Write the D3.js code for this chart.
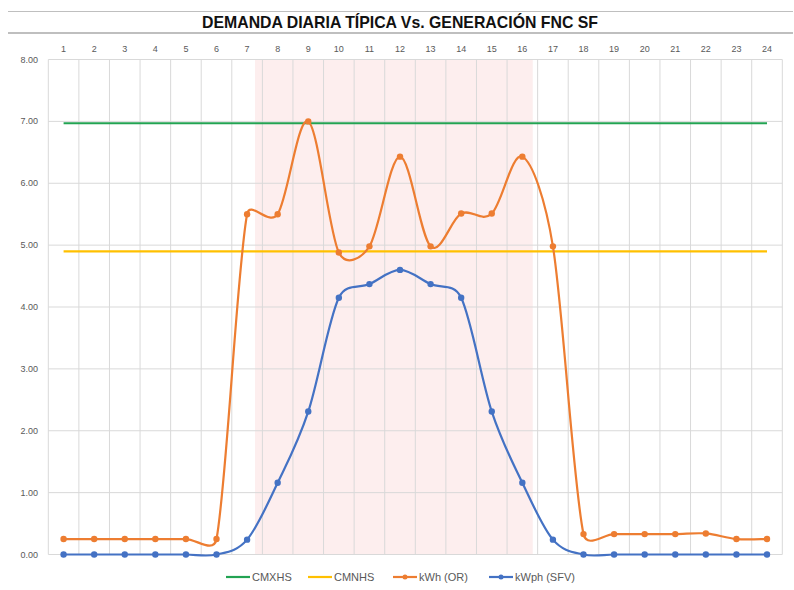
<!DOCTYPE html>
<html>
<head>
<meta charset="utf-8">
<script src="https://cdn.jsdelivr.net/npm/d3@7"></script>
<style>
  body { margin: 0; background: #fff; }
  svg { display: block; font-family: "Liberation Sans", Arial, sans-serif; }
</style>
</head>
<body>
<svg id="chart" width="794" height="590"></svg>
<script>
// datos
const hours = d3.range(1, 25);
const cmxhs = hours.map(() => 6.97);
const cmnhs = hours.map(() => 4.9);
const kwhOR = [0.25, 0.25, 0.25, 0.25, 0.25, 0.25, 5.5, 5.5, 7.0, 4.88, 4.98, 6.43,
  4.98, 5.51, 5.51, 6.43, 4.98, 0.33, 0.33, 0.33, 0.33, 0.34, 0.25, 0.25];
const kwphSFV = [0, 0, 0, 0, 0, 0, 0.24, 1.16, 2.31, 4.15, 4.37, 4.6,
  4.37, 4.15, 2.31, 1.16, 0.24, 0, 0, 0, 0, 0, 0, 0];
const yTicks = [0, 1, 2, 3, 4, 5, 6, 7, 8];
const shadeRange = [7.26, 16.34]; // horas
const title = "DEMANDA DIARIA TÍPICA Vs. GENERACIÓN FNC SF";

const series = [
  { name: "CMXHS", values: cmxhs, color: "#22a352", markers: false },
  { name: "CMNHS", values: cmnhs, color: "#ffc000", markers: false },
  { name: "kWh (OR)", values: kwhOR, color: "#ed7d31", markers: true },
  { name: "kWph (SFV)", values: kwphSFV, color: "#4472c4", markers: true }
];

const svg = d3.select("#chart");
const plotL = 48.3, plotR = 782.3, plotT = 59.5, plotB = 554.5;

const x = d3.scaleBand().domain(hours).range([plotL, plotR]);
const xc = h => x(h) + x.bandwidth() / 2;
const y = d3.scaleLinear().domain([0, 8]).range([plotB, plotT]);

// titulo
svg.append("line").attr("x1", 8).attr("x2", 793).attr("y1", 11.5).attr("y2", 11.5)
  .attr("stroke", "#bfbfbf").attr("stroke-width", 1);
svg.append("line").attr("x1", 8).attr("x2", 793).attr("y1", 33).attr("y2", 33)
  .attr("stroke", "#bfbfbf").attr("stroke-width", 2);
svg.append("text")
  .attr("x", 400).attr("y", 28)
  .attr("text-anchor", "middle")
  .attr("font-size", 17).attr("font-weight", "bold").attr("fill", "#111")
  .attr("textLength", 396).attr("lengthAdjust", "spacingAndGlyphs")
  .text(title);

// zona sombreada
const hx = d3.scaleLinear().domain([0.5, 24.5]).range([plotL, plotR]);
svg.append("rect")
  .attr("x", hx(shadeRange[0])).attr("y", plotT)
  .attr("width", hx(shadeRange[1]) - hx(shadeRange[0]))
  .attr("height", plotB - plotT)
  .attr("fill", "#fdeeee");

// grilla
svg.append("g").selectAll("line").data(yTicks).join("line")
  .attr("x1", plotL).attr("x2", plotR)
  .attr("y1", d => y(d)).attr("y2", d => y(d))
  .attr("stroke", "#d9d9d9");
svg.append("g").selectAll("line").data(d3.range(0, 25)).join("line")
  .attr("x1", d => plotL + d * x.bandwidth()).attr("x2", d => plotL + d * x.bandwidth())
  .attr("y1", plotT).attr("y2", plotB)
  .attr("stroke", "#d9d9d9");

// ejes
svg.append("g").selectAll("text").data(hours).join("text")
  .attr("x", d => xc(d)).attr("y", 52)
  .attr("text-anchor", "middle").attr("font-size", 9).attr("fill", "#595959")
  .text(d => d);
svg.append("g").selectAll("text").data(yTicks).join("text")
  .attr("x", 38).attr("y", d => y(d) + 3)
  .attr("text-anchor", "end").attr("font-size", 9).attr("fill", "#595959")
  .text(d => d.toFixed(2));

// curva suavizada tipo Excel (tangente /6, limitada a media longitud del tramo)
function smoothPath(values) {
  const pts = values.map((v, i) => [xc(hours[i]), y(v)]);
  const n = pts.length;
  const dist = (a, b) => Math.hypot(b[0] - a[0], b[1] - a[1]);
  const ctrl = pts.map((p, i) => {
    const p0 = pts[Math.max(i - 1, 0)], p2 = pts[Math.min(i + 1, n - 1)];
    const t = [(p2[0] - p0[0]) / 6, (p2[1] - p0[1]) / 6];
    const len = Math.hypot(t[0], t[1]) || 1;
    const kb = Math.min(1, (i > 0 ? dist(pts[i - 1], p) / 2 : 0) / len);
    const kf = Math.min(1, (i < n - 1 ? dist(p, pts[i + 1]) / 2 : 0) / len);
    return {
      back: [p[0] - t[0] * kb, p[1] - t[1] * kb],
      fwd: [p[0] + t[0] * kf, p[1] + t[1] * kf]
    };
  });
  const path = d3.path();
  path.moveTo(pts[0][0], pts[0][1]);
  for (let i = 1; i < n; i++) {
    const c1 = ctrl[i - 1].fwd, c2 = ctrl[i].back;
    path.bezierCurveTo(c1[0], c1[1], c2[0], c2[1], pts[i][0], pts[i][1]);
  }
  return path.toString();
}

const straight = d3.line()
  .x((d, i) => xc(hours[i]))
  .y(d => y(d));

// series
series.forEach(s => {
  svg.append("path")
    .attr("d", s.markers ? smoothPath(s.values) : straight(s.values))
    .attr("fill", "none").attr("stroke", s.color).attr("stroke-width", 2.2);
  if (s.markers) {
    svg.append("g").selectAll("circle").data(s.values).join("circle")
      .attr("cx", (d, i) => xc(hours[i])).attr("cy", d => y(d))
      .attr("r", 3.2).attr("fill", s.color);
  }
});

// leyenda
const legendX = [226, 308, 393, 489];
const lg = svg.append("g");
series.forEach((s, i) => {
  const g = lg.append("g").attr("transform", `translate(${legendX[i]},577)`);
  g.append("line").attr("x1", 0).attr("x2", 24).attr("stroke", s.color).attr("stroke-width", 2.2);
  if (s.markers) g.append("circle").attr("cx", 12).attr("r", 2.5).attr("fill", s.color);
  g.append("text").attr("x", 26).attr("y", 4).attr("font-size", 11).attr("fill", "#595959").text(s.name);
});
</script>
</body>
</html>
